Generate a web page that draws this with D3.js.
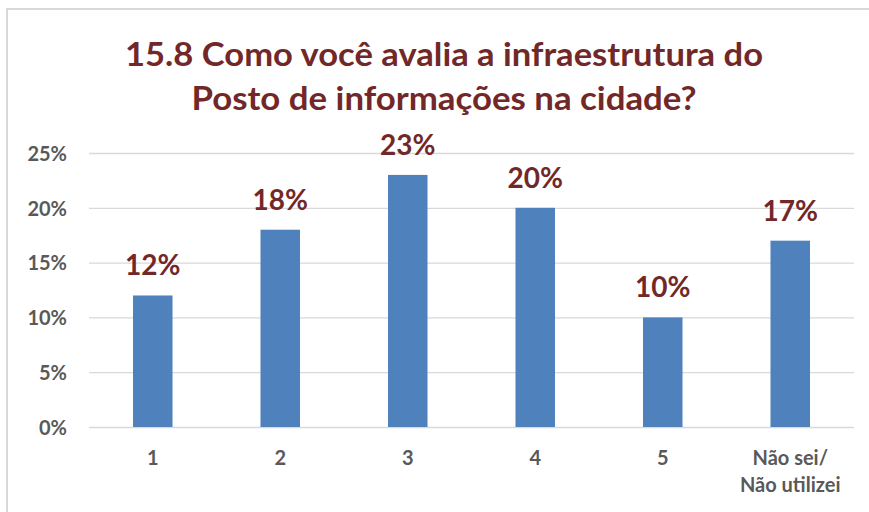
<!DOCTYPE html>
<html lang="pt">
<head>
<meta charset="utf-8">
<script src="https://d3js.org/d3.v7.min.js"></script>
<style>
  body { margin: 0; background: #fff; }
  svg { display: block; }
</style>
</head>
<body>
<div id="chart"></div>
<script>
// data
var categories = ["1", "2", "3", "4", "5", "Não sei/\nNão utilizei"];
var values = [0.12, 0.18, 0.23, 0.20, 0.10, 0.17];
var yTicks = [0, 0.05, 0.10, 0.15, 0.20, 0.25];
var titleLines = ["15.8 Como você avalia a infraestrutura do", "Posto de informações na cidade?"];

var width = 869, height = 512;
var plot = {left: 89, right: 854, top: 153, bottom: 427};
var font = "Lato, 'Open Sans', sans-serif";
var red = "#722828", gray = "#595959";

var svg = d3.select("#chart").append("svg")
    .attr("width", width)
    .attr("height", height);

// frame (only left and top edges are visible)
svg.append("path")
    .attr("d", "M7,512 V9 H869")
    .attr("fill", "none")
    .attr("stroke", "#d9d9d9")
    .attr("stroke-width", 2);

// title
var titleW = [638, 505];
svg.selectAll(".title")
    .data(titleLines)
    .enter().append("text")
    .attr("class", "title")
    .attr("x", 444)
    .attr("y", function(d, i) { return 66 + i * 44; })
    .attr("text-anchor", "middle")
    .attr("textLength", function(d, i) { return titleW[i]; })
    .attr("lengthAdjust", "spacingAndGlyphs")
    .style("font-family", font)
    .style("font-weight", "bold")
    .style("font-size", "32px")
    .style("fill", red)
    .text(function(d) { return d; });

var x = d3.scaleBand()
    .domain(categories)
    .range([plot.left, plot.right])
    .paddingInner(0.69)
    .paddingOuter(0.345);

var y = d3.scaleLinear()
    .domain([0, 0.25])
    .range([plot.bottom, plot.top]);

// gridlines + y labels
var yAxis = svg.append("g")
    .attr("transform", "translate(" + plot.left + ",0)")
    .call(d3.axisLeft(y)
        .tickValues(yTicks)
        .tickSize(-(plot.right - plot.left))
        .tickPadding(22)
        .tickFormat(d3.format(".0%")));
yAxis.select(".domain").remove();
yAxis.selectAll(".tick line").attr("stroke", "#d9d9d9").attr("stroke-width", 1.3);
yAxis.selectAll(".tick text")
    .attr("dy", "0.36em")
    .style("font-family", font)
    .style("font-weight", "bold")
    .style("font-size", "20px")
    .style("fill", gray);

// bars
svg.selectAll(".bar")
    .data(values)
    .enter().append("rect")
    .attr("class", "bar")
    .attr("x", function(d, i) { return x(categories[i]); })
    .attr("y", function(d) { return y(d); })
    .attr("width", x.bandwidth())
    .attr("height", function(d) { return y(0) - y(d); })
    .attr("fill", "#4f81bd");

// data labels
svg.selectAll(".label")
    .data(values)
    .enter().append("text")
    .attr("class", "label")
    .attr("x", function(d, i) { return x(categories[i]) + x.bandwidth() / 2; })
    .attr("y", function(d) { return y(d) - 20; })
    .attr("text-anchor", "middle")
    .style("font-family", font)
    .style("font-weight", "bold")
    .style("font-size", "28px")
    .style("fill", red)
    .text(function(d) { return Math.round(d * 100) + "%"; });

// x labels
var xAxis = svg.append("g")
    .attr("transform", "translate(0," + plot.bottom + ")")
    .call(d3.axisBottom(x).tickSize(0).tickFormat(""));
xAxis.select(".domain").remove();
xAxis.selectAll(".tick").each(function(d) {
    var t = d3.select(this).append("text")
        .attr("text-anchor", "middle")
        .style("font-family", font)
        .style("font-weight", "bold")
        .style("font-size", "20px")
        .style("fill", gray);
    d.split("\n").forEach(function(line, j) {
        t.append("tspan")
            .attr("x", 0)
            .attr("y", 38 + j * 27)
            .text(line);
    });
});
</script>
</body>
</html>
